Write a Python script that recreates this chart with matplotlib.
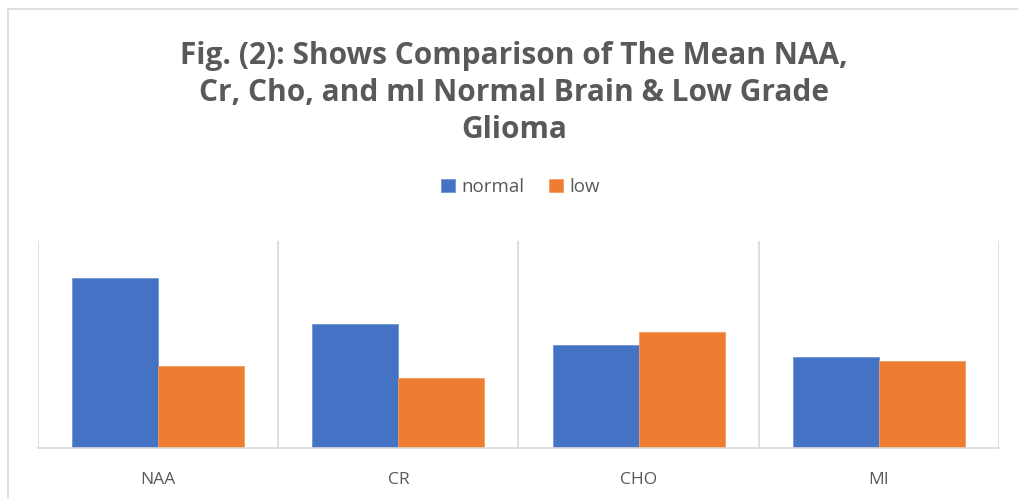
import numpy as np
import matplotlib.pyplot as plt
from matplotlib.lines import Line2D

categories = ["NAA", "CR", "CHO", "MI"]
normal = [2.05, 1.50, 1.24, 1.10]
low = [0.99, 0.85, 1.40, 1.05]

blue = "#4472c4"
orange = "#ed7d31"
grey = "#595959"
light = "#d9d9d9"

plt.rcParams['font.family'] = ['Open Sans', 'DejaVu Sans']

fig = plt.figure(figsize=(10.18, 4.99), dpi=100)
ax = fig.add_axes([0.0373, 0.1022, 0.9440, 0.4148])

x = np.arange(len(categories))
w = 0.358
ax.bar(x - w / 2, normal, w, color=blue, label="normal", edgecolor="#6f93d6", linewidth=0.6)
ax.bar(x + w / 2, low, w, color=orange, label="low", edgecolor="#f29a62", linewidth=0.6)

ax.set_xlim(-0.5, len(categories) - 0.5)
ax.set_ylim(0, 2.5)
for b in np.arange(-0.5, len(categories), 1.0):
    ax.axvline(b, color=light, linewidth=1.2, zorder=0)

ax.set_yticks([])
ax.set_xticks(x)
ax.set_xticklabels(categories, color=grey, fontsize=12.5)
ax.tick_params(axis='x', length=0, pad=17)
for s in ["top", "left", "right"]:
    ax.spines[s].set_visible(False)
ax.spines["bottom"].set_color(light)
ax.spines["bottom"].set_linewidth(1.2)

fig.text(0.505, 0.814, "Fig. (2): Shows Comparison of The Mean NAA,\nCr, Cho, and mI Normal Brain & Low Grade\nGlioma",
         ha="center", va="center", fontsize=21.5, fontweight="bold", color=grey, linespacing=1.3)

leg = fig.legend(loc="center", bbox_to_anchor=(0.511, 0.625), ncol=2, frameon=False,
                 fontsize=13.5, handlelength=0.75, handleheight=0.75, handletextpad=0.35,
                 columnspacing=1.3)
for t in leg.get_texts():
    t.set_color(grey)

# chart border (only top and left edges visible in the crop)
fig.add_artist(Line2D([8 / 1018, 8 / 1018], [0, 1 - 9 / 499], transform=fig.transFigure, color=light, linewidth=1.2))
fig.add_artist(Line2D([8 / 1018, 1], [1 - 9 / 499, 1 - 9 / 499], transform=fig.transFigure, color=light, linewidth=1.2))

fig.savefig("out.png", dpi=100)
